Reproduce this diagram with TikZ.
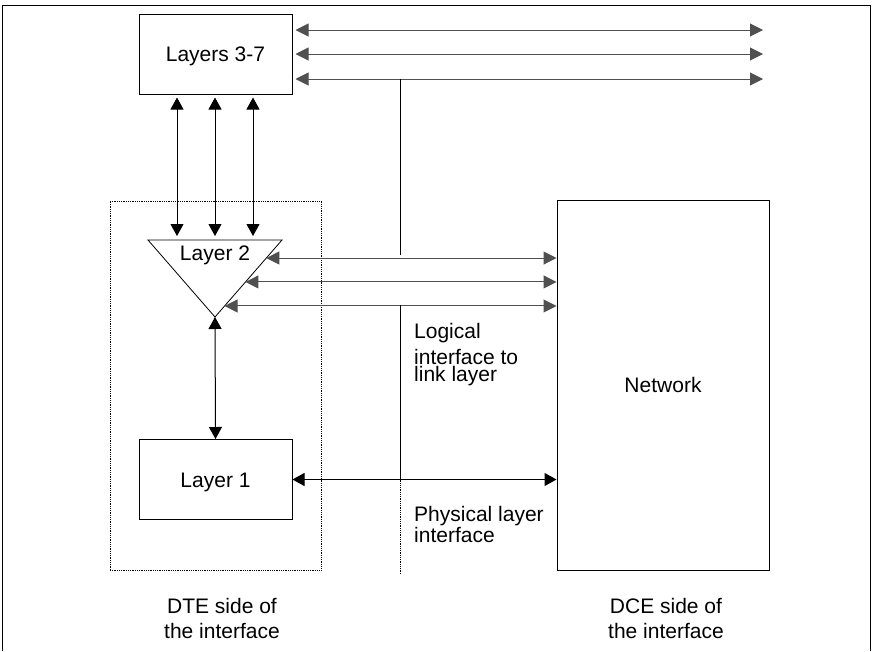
\documentclass[tikz,border=0pt]{standalone}
\usepackage{fontspec}
\setmainfont{Liberation Sans}
\usetikzlibrary{arrows.meta,calc}
\definecolor{arrowgray}{RGB}{80,80,80}
\tikzset{
    txt/.style={font=\fontsize{21}{25}\selectfont, inner sep=0pt},
    layerbox/.style={draw, line width=1pt, txt, minimum width=153pt, minimum height=80pt, text height=15pt, text depth=0pt},
    blk/.style={{Triangle[length=12pt,width=13pt]}-{Triangle[length=12pt,width=13pt]}, line width=1pt, black},
    gry/.style={{Triangle[length=13pt,width=13pt]}-{Triangle[length=13pt,width=13pt]}, line width=1pt, arrowgray}
}

\begin{document}
\begin{tikzpicture}[x=1pt,y=-1pt]
    \useasboundingbox (0,0) rectangle (873,651);
    \draw[line width=1pt] (2.5,651) -- (2.5,5) -- (870,5) -- (870,651);
    \node[layerbox] (L37) at (215.5,54) {Layers 3-7};
    \node[layerbox] (L1) at (215.5,479.5) {Layer 1};
    \node[draw, line width=1pt, txt, minimum width=212pt, minimum height=370pt] (Net) at (663,385) {Network};
    \node[draw, densely dotted, line width=0.8pt, minimum width=211pt, minimum height=369pt, inner sep=0pt] (DTE) at (215.5,385.5) {};
    \coordinate (TL) at (148,240);
    \coordinate (TR) at (282,240);
    \coordinate (TA) at (215,317);
    \draw[line width=0.8pt] (TL) -- (TR) -- (TA) -- cycle;
    \node[txt, anchor=base] (L2) at (215,260) {Layer 2};
    \coordinate (farR) at (763,0);
    \foreach \x in {177,215,253}
        \draw[blk, shorten <=3pt, shorten >=4pt] (\x,0 |- L37.south) -- (\x,0 |- TL);
    \draw[blk] (TA) -- (L1.north);
    \draw[blk] (L1.east) -- (L1.east -| Net.west);
    \foreach \y in {30,54,79}
        \draw[gry, shorten <=3pt] (L37.east |- 0,\y) -- (farR |- 0,\y);
    \foreach \f/\n in {0.234/a,0.545/b,0.857/c}{
        \coordinate (e\n) at ($(TR)!\f!(TA)$);
        \draw[gry] (e\n) -- (e\n -| Net.west);
    }
    \draw[line width=1pt] (400,79) -- (400,255);
    \draw[line width=1pt] (400,305) -- (400,0 |- L1.east);
    \draw[line width=0.8pt, densely dotted] (400,0 |- L1.east) -- (400,574);
    \node[txt, align=left, anchor=north west, font=\fontsize{21}{26}\selectfont] (logi) at (414,323.5) {Logical\\interface to\\[-9pt]link layer};
    \node[txt, align=left, anchor=north west, font=\fontsize{21}{21}\selectfont] (phys) at (414,506.5) {Physical layer\\interface};
    \node[txt, align=center, anchor=north] (dte) at (222,598) {DTE side of\\the interface};
    \node[txt, align=center, anchor=north] (dce) at (666,598) {DCE side of\\the interface};
\end{tikzpicture}
\end{document}
